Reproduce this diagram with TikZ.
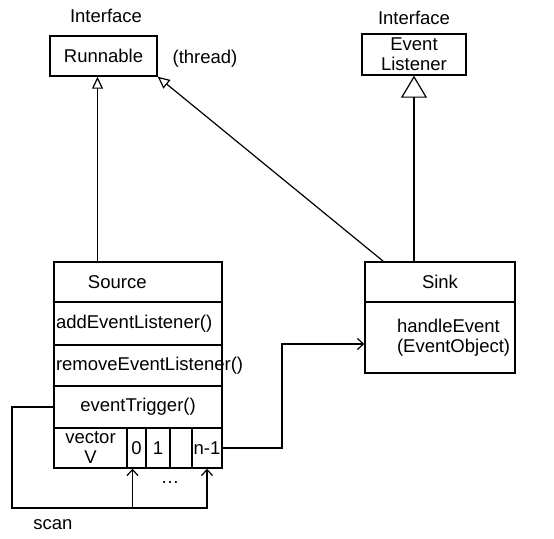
\documentclass[tikz,border=0pt]{standalone}
\usepackage{fontspec}
\setmainfont{Liberation Sans}
\usetikzlibrary{arrows.meta,positioning,calc}
\tikzset{
  box/.style={draw,rectangle,line width=1.4pt,inner sep=0pt,align=center},
  mrow/.style={box,align=left,inner xsep=2pt,text width=164pt,minimum height=#1},
  cell/.style={box,minimum height=40pt,minimum width=#1},
  lbl/.style={inner sep=0pt},
  inh/.style={line width=1.2pt,-{Triangle[open,length=12pt,width=11pt]}},
  inhb/.style={line width=1.2pt,-{Triangle[open,length=22pt,width=26pt]}},
  flow/.style={line width=1.2pt,-{Straight Barb[length=6pt,width=11pt]}}
}
\begin{document}
\begin{tikzpicture}[x=1pt,y=-1pt,font=\fontsize{18.5}{20}\selectfont]
\useasboundingbox (0,0) rectangle (554,538);
\node[box,minimum width=107pt,minimum height=40pt] (run) at (103.5,56) {Runnable};
\node[box,minimum width=104pt,minimum height=41pt] (evl) at (414,54.5) {Event\\Listener};
\node[lbl] (ifa) at (106,16) {Interface};
\node[lbl] (ifb) at (414,18) {Interface};
\node[lbl] (thr) at (205,59) {(thread)};
\node[mrow=40pt] (src) at (138,282) {\hspace*{32pt}Source};
\node[mrow=43pt] (add) at (138,323.5) {addEventListener()};
\node[mrow=41pt] (rem) at (138,365.5) {removeEventListener()};
\node[box,minimum width=168pt,minimum height=42pt] (trig) at (138,407) {eventTrigger()};
\node[cell=73pt] (vec) at (90.5,448) {vector\\V};
\node[cell=19pt] (c0) at (136.5,448) {0};
\node[cell=24pt] (c1) at (158,448) {1};
\node[cell=22pt] (c2) at (181,448) {};
\node[cell=30pt] (cn) at (207,448) {n-1};
\node[box,minimum width=150pt,minimum height=40pt] (snk) at (440,282) {Sink};
\node[box,align=left,text width=86pt,inner xsep=32pt,minimum height=71pt] (snkm) at (440,337.5) {handleEvent\\(EventObject)};
\node[lbl] (dots) at (170,483) {\dots};
\node[lbl] (scan) at (53,525) {scan};
\coordinate (lp) at (12,508);
\coordinate (jn) at (282,344);
\draw[inh] ([xshift=-6pt]run.south |- src.north) -- ([xshift=-6pt]run.south);
\draw[inh] ([xshift=19pt]snk.north west) -- (run.south east);
\draw[inhb] (evl.south |- snk.north) -- (evl.south);
\draw[flow] (trig.west) -| (lp) -| (cn.south);
\draw[flow] ([xshift=-4pt]c0.south |- lp) -- ([xshift=-4pt]c0.south);
\draw[flow] (cn.east) -| (jn) -- (jn -| snkm.west);
\end{tikzpicture}
\end{document}
